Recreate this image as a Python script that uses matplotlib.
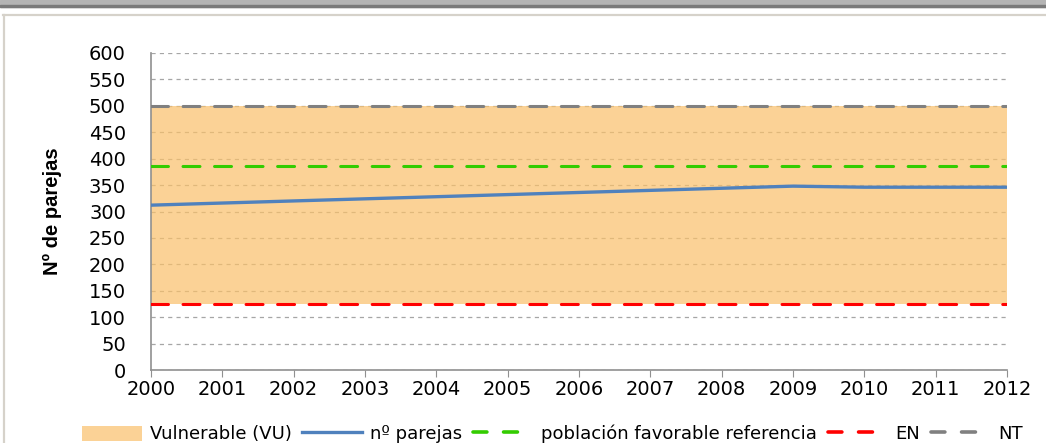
import numpy as np
import matplotlib
matplotlib.use('Agg')
import matplotlib.pyplot as plt
from matplotlib.patches import Rectangle, Patch
from matplotlib.lines import Line2D

# Datos
anios = list(range(2000, 2013))
n_parejas = [312, 316, 320, 324, 328, 332, 336, 340, 344, 348, 346, 346, 346]
vu_min, vu_max = 125, 500
favorable = 387
en_umbral = 125
nt_umbral = 500
yticks = list(range(0, 601, 50))

c_vu = '#FAC06A'
c_linea = '#4F81BD'
c_verde = '#33CC00'
c_rojo = '#FF0000'
c_gris = '#808080'

plt.rcParams['font.family'] = ['DejaVu Sans']
plt.rcParams['lines.scale_dashes'] = False

fig = plt.figure(figsize=(10.46, 4.43), dpi=100)
ax = fig.add_axes([151/1046, 1-370/443, (1007-151)/1046, (370-53)/443])

# marco de la ventana
fig.patches.append(Rectangle((0, 1-7/443), 1, 7/443, transform=fig.transFigure,
                             color='#b4b4b4', zorder=0))
fig.patches.append(Rectangle((0, 1-7/443), 1, 2/443, transform=fig.transFigure,
                             color='#7a7a7a', zorder=0))
fig.lines.append(Line2D([3/1046, 1], [1-15/443, 1-15/443], transform=fig.transFigure,
                        color='#d6d2ca', lw=1.6))
fig.lines.append(Line2D([4/1046, 4/1046], [0, 1-15/443], transform=fig.transFigure,
                        color='#d6d2ca', lw=1.6))

# banda vulnerable
ax.fill_between(anios, vu_min, vu_max, color=c_vu, alpha=0.7, lw=0, zorder=2)

dash = (12.2, 10.5)
ax.plot(anios, [favorable]*len(anios), color=c_verde, lw=2.2, dashes=dash,
        dash_capstyle='round', zorder=4)
ax.plot(anios, [en_umbral]*len(anios), color=c_rojo, lw=2.2, dashes=dash,
        dash_capstyle='round', zorder=4)
ax.plot(anios, [nt_umbral]*len(anios), color=c_gris, lw=2.2, dashes=dash,
        dash_capstyle='round', zorder=4)
ax.plot(anios, n_parejas, color=c_linea, lw=2.4, zorder=5)

ax.set_xlim(2000, 2012)
ax.set_ylim(0, 600)
ax.set_xticks(anios)
ax.set_yticks(yticks)
ax.tick_params(axis='x', labelsize=14, length=5, color='#909090', direction='out', pad=2)
ax.tick_params(axis='y', labelsize=14, length=0, pad=18)
ax.yaxis.grid(True, color='#a6a6a6', ls=(0, (3, 3)), lw=0.9, zorder=1)
ax.set_axisbelow(True)
for s in ['top', 'right']:
    ax.spines[s].set_visible(False)
for s in ['left', 'bottom']:
    ax.spines[s].set_color('#909090')
    ax.spines[s].set_linewidth(1.2)

ax.set_ylabel('Nº de parejas', family=['Liberation Sans', 'DejaVu Sans'],
              fontweight='bold', fontsize=14.5)
ax.yaxis.set_label_coords(-0.104, 0.5)

handles = [
    Patch(facecolor=c_vu, alpha=0.7, edgecolor='none'),
    Line2D([], [], color=c_linea, lw=2.4),
    Line2D([], [], color=c_verde, lw=2.6, dashes=(10, 12), dash_capstyle='round'),
    Line2D([], [], color=c_rojo, lw=2.6, dashes=(10, 12), dash_capstyle='round'),
    Line2D([], [], color=c_gris, lw=2.6, dashes=(10, 12), dash_capstyle='round'),
]
labels = ['Vulnerable (VU)', 'nº parejas', 'población favorable referencia', 'EN', 'NT']
fig.legend(handles, labels, loc='center left', bbox_to_anchor=(82/1046, 1-434/443),
           ncol=5, frameon=False, fontsize=13, handlelength=3.3, handleheight=0.9,
           handletextpad=0.45, columnspacing=0.6, borderaxespad=0, borderpad=0)

fig.savefig('out.png', dpi=100)
